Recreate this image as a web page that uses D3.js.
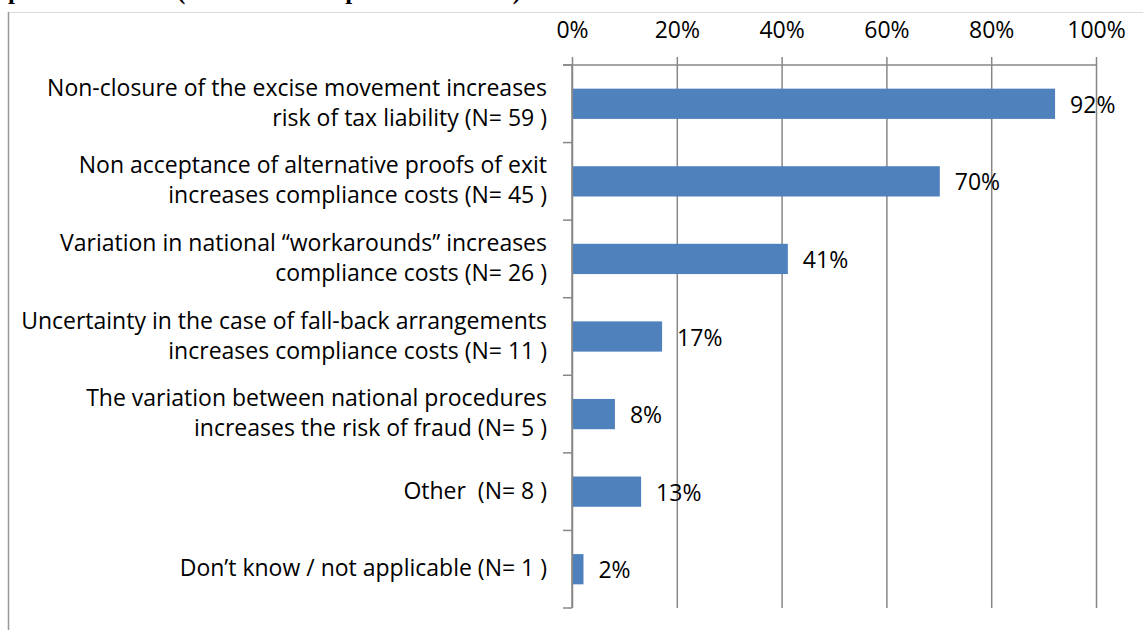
<!DOCTYPE html>
<html>
<head>
<meta charset="utf-8">
<script src="https://cdn.jsdelivr.net/npm/d3@7"></script>
<style>
  html, body { margin: 0; padding: 0; background: #fff; overflow: hidden; }
  svg { display: block; }
  text { white-space: pre; }
</style>
</head>
<body>
<div id="chart"></div>
<script>
// chart data
const categories = [
  ['Non-closure of the excise movement increases', 'risk of tax liability (N= 59 )'],
  ['Non acceptance of alternative proofs of exit', 'increases compliance costs (N= 45 )'],
  ['Variation in national “workarounds” increases', 'compliance costs (N= 26 )'],
  ['Uncertainty in the case of fall-back arrangements', 'increases compliance costs (N= 11 )'],
  ['The variation between national procedures', 'increases the risk of fraud (N= 5 )'],
  ['Other  (N= 8 )'],
  ['Don’t know / not applicable (N= 1 )']
];
const shares = [92, 70, 41, 17, 8, 13, 2];
const tickValues = [0, 20, 40, 60, 80, 100];
const titleText = 'problems faced (more than one possible answer)';

const width = 1143;
const height = 630;
const margin = { top: 65, right: 47, bottom: 22, left: 572 };
const fontFamily = '"Open Sans", "Noto Sans", sans-serif';
const fontSize = 23;
const barColor = '#4F81BD';
const gridColor = '#878787';

const svg = d3
  .select('#chart')
  .append('svg')
  .attr('width', width)
  .attr('height', height);

// title, mostly cut off by the top edge
svg
  .append('text')
  .attr('x', 8)
  .attr('y', -1)
  .attr('font-family', '"Liberation Serif", serif')
  .attr('font-weight', 'bold')
  .attr('font-size', 25)
  .text(titleText);

// chart area border (only left and top show)
svg
  .append('path')
  .attr('d', `M8.5,${height} V12.5 H${width}`)
  .attr('fill', 'none')
  .attr('stroke', '#dcdcdc')
  .attr('stroke-width', 1);
svg
  .append('line')
  .attr('x1', 8.5)
  .attr('x2', 8.5)
  .attr('y1', 12)
  .attr('y2', height)
  .attr('stroke', '#999')
  .attr('stroke-width', 1.5);

const x = d3.scaleLinear().domain([0, 100]).range([margin.left, width - margin.right]);
const y = d3
  .scaleBand()
  .domain(d3.range(categories.length))
  .range([margin.top, height - margin.bottom])
  .paddingInner(0.61)
  .paddingOuter(0.305);

// vertical gridlines + top axis labels
const gx = svg.append('g').attr('transform', `translate(0, ${margin.top})`);
gx.call(
  d3
    .axisTop(x)
    .tickValues(tickValues)
    .tickFormat((d) => d + '%')
    .tickSize(8)
    .tickPadding(19)
);
gx.select('.domain').remove();
gx.selectAll('.tick line').attr('stroke', gridColor).attr('stroke-width', 1.5);
gx.selectAll('.tick')
  .append('line')
  .attr('y1', 0)
  .attr('y2', height - margin.bottom - margin.top)
  .attr('stroke', gridColor)
  .attr('stroke-width', 1.5);
gx.selectAll('.tick text')
  .attr('font-family', fontFamily)
  .attr('font-size', fontSize)
  .attr('fill', '#000');

// horizontal axis line at top
svg
  .append('line')
  .attr('x1', margin.left - 9)
  .attr('x2', x(100))
  .attr('y1', margin.top)
  .attr('y2', margin.top)
  .attr('stroke', gridColor)
  .attr('stroke-width', 1.5);

// category axis with ticks at band boundaries
const step = y.step();
const boundaries = d3.range(categories.length + 1).map((i) => margin.top + i * step);
svg
  .append('line')
  .attr('x1', margin.left)
  .attr('x2', margin.left)
  .attr('y1', margin.top)
  .attr('y2', height - margin.bottom)
  .attr('stroke', gridColor)
  .attr('stroke-width', 1.5);
svg
  .append('g')
  .selectAll('line')
  .data(boundaries)
  .join('line')
  .attr('x1', margin.left - 9)
  .attr('x2', margin.left)
  .attr('y1', (d) => d)
  .attr('y2', (d) => d)
  .attr('stroke', gridColor)
  .attr('stroke-width', 1.5);

// bars
svg
  .append('g')
  .selectAll('rect')
  .data(shares)
  .join('rect')
  .attr('x', x(0) + 1)
  .attr('y', (d, i) => y(i))
  .attr('width', (d) => x(d) - x(0))
  .attr('height', y.bandwidth())
  .attr('fill', barColor);

// value labels
svg
  .append('g')
  .selectAll('text')
  .data(shares)
  .join('text')
  .attr('x', (d) => x(d) + 16)
  .attr('y', (d, i) => y(i) + y.bandwidth() / 2 + 9)
  .attr('font-family', fontFamily)
  .attr('font-size', fontSize)
  .attr('fill', '#000')
  .text((d) => d + '%');

// category labels
const lineHeight = 30;
const labels = svg
  .append('g')
  .selectAll('text')
  .data(categories)
  .join('text')
  .attr('text-anchor', 'end')
  .attr('font-family', fontFamily)
  .attr('font-size', fontSize)
  .attr('fill', '#000');
labels
  .selectAll('tspan')
  .data((lines, i) => lines.map((t, j) => ({ t, j, i, n: lines.length })))
  .join('tspan')
  .attr('x', margin.left - 25)
  .attr('y', (d) => y(d.i) + y.bandwidth() / 2 + 7 + (d.j - (d.n - 1) / 2) * lineHeight)
  .text((d) => d.t);
</script>
</body>
</html>
